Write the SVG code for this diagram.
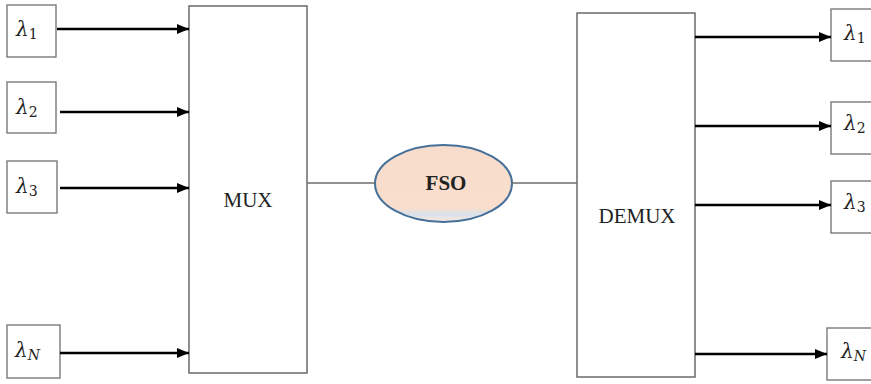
<svg xmlns="http://www.w3.org/2000/svg" width="871" height="384" viewBox="0 0 871 384">
  <defs>
    <marker id="arrow" markerWidth="12" markerHeight="10" refX="12" refY="5" orient="auto" markerUnits="userSpaceOnUse">
      <path d="M0,0 L12,5 L0,10 Z" fill="#000"/>
    </marker>
    <linearGradient id="fsoFill" x1="0" y1="0" x2="0" y2="1">
      <stop offset="0" stop-color="#F8DCCB"/>
      <stop offset="0.82" stop-color="#F9DECE"/>
      <stop offset="0.9" stop-color="#D6E1EA"/>
      <stop offset="0.96" stop-color="#EFE6E2"/>
      <stop offset="1" stop-color="#F6E6DC"/>
    </linearGradient>
    <style>
      .box { fill: #fff; stroke: #7a7a7a; stroke-width: 1.4; }
      .block { fill: #fff; stroke: #6a6a6a; stroke-width: 1.5; }
      .arrow { stroke: #000; stroke-width: 2.6; fill: none; marker-end: url(#arrow); }
      .link { stroke: #6e6e6e; stroke-width: 1.5; fill: none; }
      .lam { font-family: "DejaVu Serif", "Liberation Serif", serif; font-style: italic; font-size: 20px; fill: #222; }
      .sub { font-style: normal; font-size: 14px; }
      .subi { font-style: italic; font-size: 14px; }
      .label { font-family: "Liberation Serif", "Times New Roman", serif; font-size: 21px; fill: #222; text-anchor: middle; }
    </style>
  </defs>

  <!-- input wavelengths -->
  <g id="in1"><rect class="box" x="7" y="5" width="49" height="52"/><text class="lam" x="16" y="36">λ<tspan class="sub" dy="3">1</tspan></text></g>
  <g id="in2"><rect class="box" x="7" y="82" width="49" height="51"/><text class="lam" x="16" y="114">λ<tspan class="sub" dy="3">2</tspan></text></g>
  <g id="in3"><rect class="box" x="7" y="161" width="50" height="52"/><text class="lam" x="16" y="193">λ<tspan class="sub" dy="3">3</tspan></text></g>
  <g id="inN"><rect class="box" x="7" y="325" width="53" height="53"/><text class="lam" x="15" y="357">λ<tspan class="subi" dy="3">N</tspan></text></g>

  <!-- multiplexer -->
  <g id="mux"><rect class="block" x="189" y="6" width="118" height="367"/><text class="label" x="248" y="207">MUX</text></g>

  <!-- free-space optical channel -->
  <g id="fso">
    <ellipse cx="443.5" cy="183.5" rx="68.5" ry="38.5" fill="url(#fsoFill)" stroke="#46709A" stroke-width="2"/>
    <text class="label" x="446" y="190" font-weight="bold">FSO</text>
  </g>

  <!-- demultiplexer -->
  <g id="demux"><rect class="block" x="577" y="13" width="118" height="364"/><text class="label" x="637" y="223">DEMUX</text></g>

  <!-- output wavelengths -->
  <g id="out1"><rect class="box" x="831" y="9" width="50" height="52"/><text class="lam" x="844" y="40">λ<tspan class="sub" dy="3">1</tspan></text></g>
  <g id="out2"><rect class="box" x="831" y="102" width="50" height="52"/><text class="lam" x="844" y="130">λ<tspan class="sub" dy="3">2</tspan></text></g>
  <g id="out3"><rect class="box" x="831" y="181" width="50" height="52"/><text class="lam" x="844" y="209">λ<tspan class="sub" dy="3">3</tspan></text></g>
  <g id="outN"><rect class="box" x="827" y="328" width="54" height="52"/><text class="lam" x="841" y="358">λ<tspan class="subi" dy="3">N</tspan></text></g>

  <!-- connectors -->
  <g id="connectors">
    <line class="arrow" x1="57" y1="29" x2="189" y2="29"/>
    <line class="arrow" x1="60" y1="112" x2="189" y2="112"/>
    <line class="arrow" x1="60" y1="188" x2="189" y2="188"/>
    <line class="arrow" x1="60" y1="353" x2="189" y2="353"/>
    <line class="link" x1="307" y1="183" x2="375" y2="183"/>
    <line class="link" x1="512" y1="183" x2="577" y2="183"/>
    <line class="arrow" x1="695" y1="37" x2="831" y2="37"/>
    <line class="arrow" x1="695" y1="126" x2="831" y2="126"/>
    <line class="arrow" x1="695" y1="205" x2="831" y2="205"/>
    <line class="arrow" x1="695" y1="354" x2="827" y2="354"/>
  </g>
</svg>
